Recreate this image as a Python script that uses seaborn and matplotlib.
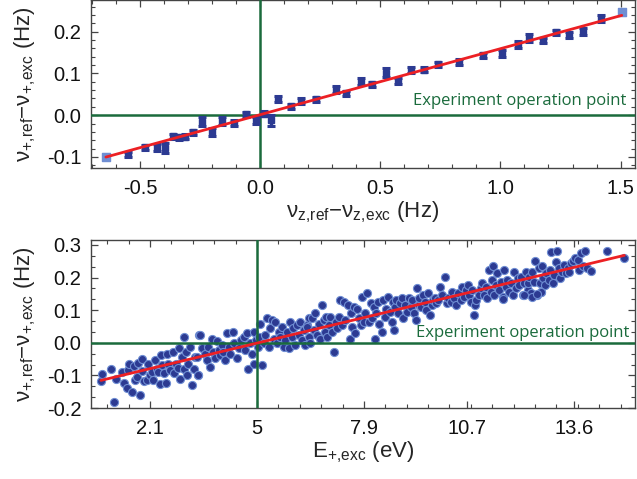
import numpy as np
import pandas as pd
import matplotlib
matplotlib.use("Agg")
import matplotlib.pyplot as plt
import seaborn as sns
from matplotlib.ticker import MultipleLocator, FixedLocator, AutoMinorLocator, FormatStrFormatter

# ---------------- data ----------------
# top panel: nu_z,ref - nu_z,exc (Hz) vs nu_+,ref - nu_+,exc (Hz)
x_top = [-0.642, -0.548, -0.481, -0.431, -0.396, -0.361, -0.337, -0.313, -0.278, -0.240,
         -0.202, -0.157, -0.109, -0.060, -0.016, 0.016, 0.047, 0.076, 0.127, 0.172,
         0.231, 0.314, 0.358, 0.418, 0.466, 0.525, 0.574, 0.626, 0.681, 0.741,
         0.826, 0.926, 1.007, 1.073, 1.120, 1.177, 1.232, 1.285, 1.343, 1.418, 1.505]
y_top = [-0.100, -0.094, -0.077, -0.078, -0.078, -0.050, -0.053, -0.052, -0.041, -0.016,
         -0.040, -0.014, -0.018, 0.002, -0.012, 0.004, -0.012, 0.038, 0.022, 0.034,
         0.038, 0.062, 0.052, 0.080, 0.074, 0.102, 0.082, 0.108, 0.109, 0.122,
         0.127, 0.144, 0.148, 0.170, 0.185, 0.179, 0.198, 0.193, 0.201, 0.232, 0.246]
err_top = [0.006, 0.007, 0.006, 0.008, 0.012, 0.006, 0.006, 0.006, 0.006, 0.011,
           0.009, 0.009, 0.007, 0.006, 0.008, 0.006, 0.013, 0.007, 0.006, 0.006,
           0.006, 0.008, 0.007, 0.008, 0.006, 0.011, 0.008, 0.008, 0.006, 0.006,
           0.007, 0.006, 0.008, 0.008, 0.010, 0.007, 0.006, 0.007, 0.008, 0.009, 0.007]

# bottom panel: E_+,exc (eV) vs nu_+,ref - nu_+,exc (Hz)
x_bot = [0.77, 0.79, 1.04, 1.13, 1.17, 1.33, 1.40, 1.47, 1.49, 1.54, 1.60, 1.67, 1.69, 1.74, 1.77,
         1.83, 1.87, 1.89, 1.95, 2.01, 2.05, 2.10, 2.15, 2.19, 2.24, 2.28, 2.33, 2.37, 2.40, 2.43,
         2.49, 2.53, 2.55, 2.60, 2.64, 2.71, 2.76, 2.80, 2.85, 2.89, 2.92, 2.96, 3.01, 3.03, 3.07,
         3.10, 3.14, 3.19, 3.23, 3.28, 3.32, 3.40, 3.43,
         3.37, 3.41, 3.46, 3.51, 3.58, 3.64, 3.68, 3.73, 3.78, 3.82, 3.87, 3.91, 3.96, 4.00, 4.05,
         4.09, 4.14, 4.18, 4.23, 4.27, 4.34, 4.39, 4.46, 4.50, 4.57, 4.64, 4.68, 4.73, 4.77, 4.82,
         4.86, 4.91, 4.93, 4.97, 5.03, 5.06, 5.09, 5.14, 5.18, 5.23, 5.27, 5.32, 5.36, 5.41, 5.45,
         5.50, 5.54, 5.59, 5.63, 5.68, 5.72, 5.77, 5.82, 5.86, 5.90, 5.95, 5.99, 6.04, 6.09, 6.13,
         6.18, 6.22, 6.27, 6.31, 6.36, 6.40,
         6.36, 6.40, 6.45, 6.49, 6.54, 6.58, 6.63, 6.67, 6.72, 6.77, 6.81, 6.84, 6.88, 6.90, 6.95,
         6.99, 7.04, 7.08, 7.13, 7.17, 7.22, 7.26, 7.31, 7.35, 7.40, 7.47, 7.51, 7.54, 7.58, 7.63,
         7.67, 7.72, 7.76, 7.81, 7.85, 7.90, 7.94, 7.99, 8.03, 8.08, 8.13, 8.17, 8.20, 8.23, 8.29,
         8.32, 8.38, 8.41, 8.47, 8.51, 8.56, 8.60, 8.65, 8.69, 8.71, 8.74, 8.78, 8.83, 8.87, 8.92,
         8.96, 9.01, 9.08, 9.12, 9.17, 9.21, 9.26, 9.30, 9.35, 9.39,
         9.39, 9.44, 9.50, 9.55, 9.59, 9.65, 9.68, 9.74, 9.77, 9.83, 9.86, 9.92, 9.95, 10.01, 10.10,
         10.14, 10.19, 10.25, 10.30, 10.34, 10.41, 10.46, 10.52, 10.57, 10.61, 10.66, 10.71, 10.75,
         10.80, 10.84, 10.89, 10.91, 10.95, 11.01, 11.07, 11.11, 11.16, 11.20, 11.25, 11.29, 11.34,
         11.37, 11.40, 11.43, 11.48, 11.52, 11.57, 11.61, 11.66, 11.70, 11.75, 11.79, 11.84, 11.88,
         11.93, 11.97, 12.02, 12.07, 12.11, 12.15, 12.20, 12.24, 12.29, 12.34, 12.38,
         12.34, 12.38, 12.43, 12.47, 12.52, 12.54, 12.58, 12.64, 12.67, 12.70, 12.73, 12.76, 12.82,
         12.85, 12.91, 12.94, 12.97, 13.02, 13.06, 13.11, 13.13, 13.18, 13.21, 13.27, 13.33, 13.38,
         13.42, 13.47, 13.51, 13.56, 13.63, 13.70, 13.74, 13.79, 13.83, 13.90, 13.94, 14.06, 14.49,
         14.96, 11.68, 12.25, 12.70, 12.45, 12.60]
y_bot = [-0.117, -0.096, -0.081, -0.183, -0.110, -0.089, -0.122, -0.140, -0.084, -0.066, -0.151,
         -0.071, -0.115, -0.104, -0.061, -0.161, -0.086, -0.051, -0.117, -0.113, -0.064, -0.099,
         -0.089, -0.113, -0.053, -0.079, -0.089, -0.125, -0.038, -0.069, -0.094, -0.123, -0.033,
         -0.064, -0.084, -0.028, -0.092, -0.064, -0.076, -0.017, -0.110, -0.043, 0.018, -0.079,
         -0.028, -0.099, -0.064, -0.012, -0.130, -0.079, -0.043, -0.099, 0.024,
         -0.043, -0.099, 0.024, -0.017, -0.033, -0.053, -0.012, -0.074, 0.010, -0.028, -0.048,
         0.006, -0.022, -0.038, -0.007, -0.028, -0.053, 0.029, -0.012, -0.033, 0.034, -0.002,
         -0.048, -0.017, 0.008, 0.018, -0.022, 0.029, -0.079, -0.002, -0.033, 0.034, -0.064,
         0.008, -0.012, 0.018, 0.059, -0.069, -0.002, 0.024, 0.075, -0.012, 0.044, 0.070, 0.013,
         0.065, -0.002, 0.034, 0.018, 0.049, -0.012, 0.008, 0.034, -0.017, 0.065, 0.018, 0.044,
         -0.007, 0.054, 0.024, 0.065, 0.008, 0.039, -0.007, 0.054, 0.075,
         0.049, 0.018, -0.002, 0.075, 0.039, 0.090, 0.024, 0.059, 0.013, 0.116, 0.070, 0.034,
         0.080, 0.018, 0.054, 0.080, 0.034, -0.028, 0.065, 0.044, 0.080, 0.131, 0.054, 0.126,
         0.070, 0.116, 0.013, 0.090, 0.049, 0.111, 0.029, 0.105, 0.075, 0.054, 0.141, 0.065,
         0.090, 0.152, 0.065, 0.121, 0.075, 0.111, 0.013, 0.090, 0.126, 0.059, 0.034, 0.131,
         0.080, 0.105, 0.141, 0.095, 0.065, 0.126, 0.039, 0.111, 0.131, 0.090, 0.121, 0.136,
         0.075, 0.116, 0.095, 0.136, 0.111, 0.131, 0.090, 0.070, 0.167, 0.116,
         0.136, 0.111, 0.147, 0.126, 0.101, 0.152, 0.085, 0.116, 0.131, 0.138, 0.121, 0.131,
         0.172, 0.147, 0.203, 0.121, 0.136, 0.126, 0.157, 0.136, 0.116, 0.152, 0.131, 0.172,
         0.141, 0.162, 0.177, 0.147, 0.126, 0.162, 0.085, 0.116, 0.131, 0.147, 0.167, 0.182,
         0.147, 0.172, 0.136, 0.223, 0.157, 0.193, 0.234, 0.147, 0.177, 0.213, 0.162, 0.187,
         0.141, 0.223, 0.172, 0.193, 0.157, 0.182, 0.147, 0.218, 0.167, 0.198, 0.177, 0.203,
         0.147, 0.182, 0.218, 0.162, 0.193,
         0.182, 0.203, 0.152, 0.218, 0.187, 0.252, 0.147, 0.228, 0.182, 0.157, 0.236, 0.198,
         0.177, 0.213, 0.193, 0.223, 0.277, 0.182, 0.208, 0.249, 0.280, 0.228, 0.198, 0.218,
         0.239, 0.213, 0.228, 0.218, 0.244, 0.252, 0.259, 0.254, 0.223, 0.274, 0.234, 0.280,
         0.228, 0.221, 0.280, 0.259, 0.134, 0.147, 0.157, 0.140, 0.150]

xticks_bot = [2.1, 5, 7.9, 10.7, 13.6]
xticklabels_bot = ["2.1", "5", "7.9", "10.7", "13.6"]

label_text = "Experiment operation point"

# ---------------- style ----------------
sns.set_theme(style="ticks")
plt.rcParams["font.family"] = ["Liberation Sans", "DejaVu Sans"]
plt.rcParams["mathtext.fontset"] = "custom"
plt.rcParams["mathtext.rm"] = "Liberation Sans"
plt.rcParams["mathtext.it"] = "Liberation Sans"
plt.rcParams["axes.unicode_minus"] = False

BLUE = "#2c3a92"
LIGHT = "#6f8ed3"
RED = "#ec2024"
GREEN = "#1a6b3c"
SPINE = "#444444"

fig = plt.figure(figsize=(6.37, 4.79), dpi=100)
W, H = 637, 479
ax1 = fig.add_axes([91 / W, 1 - 168 / H, 544 / W, 168 / H])
ax2 = fig.add_axes([91 / W, 1 - 408 / H, 544 / W, 168 / H])


def style_axes(ax):
    for s in ax.spines.values():
        s.set_color(SPINE)
        s.set_linewidth(1.0)
    ax.tick_params(which="both", direction="in", top=True, right=True, color=SPINE,
                   labelsize=14.5, labelcolor="#111111")
    ax.tick_params(which="major", length=5, width=0.9)
    ax.tick_params(which="minor", length=3, width=0.8)
    ax.tick_params(axis="x", pad=8)
    ax.tick_params(axis="y", pad=7)


ylab = r"ν$_{+,\!\mathrm{ref}}$−ν$_{+,\!\mathrm{exc}}$ (Hz)"

# ---- top panel ----
ax1.axhline(0, color=GREEN, lw=1.8, zorder=3)
ax1.axvline(0, color=GREEN, lw=1.8, zorder=3)
ax1.errorbar(x_top, y_top, yerr=err_top, fmt="s", ms=4, color=BLUE, ecolor=BLUE,
             elinewidth=2.4, capsize=3.2, capthick=2.2, zorder=4)
ax1.scatter([x_top[0], x_top[-1]], [y_top[0], y_top[-1]], marker="s", s=30,
            color=LIGHT, zorder=5)
sns.regplot(x=np.array(x_top), y=np.array(y_top), ax=ax1, scatter=False, ci=None,
            line_kws=dict(color=RED, lw=2.0, zorder=6))
ax1.set_xlim(-0.704, 1.56)
ax1.set_ylim(-0.1264, 0.2758)
ax1.xaxis.set_major_locator(MultipleLocator(0.5))
ax1.xaxis.set_minor_locator(MultipleLocator(0.1))
ax1.yaxis.set_major_locator(MultipleLocator(0.1))
ax1.yaxis.set_minor_locator(MultipleLocator(0.02))
ax1.xaxis.set_major_formatter(FormatStrFormatter("%.1f"))
ax1.yaxis.set_major_formatter(FormatStrFormatter("%.1f"))
style_axes(ax1)
ax1.set_xlabel(r"ν$_{z,\!\mathrm{ref}}$−ν$_{z,\!\mathrm{exc}}$ (Hz)", fontsize=16, labelpad=1)
ax1.set_ylabel(ylab, fontsize=16, labelpad=6)
ax1.text(1.525, 0.024, label_text, color=GREEN, fontsize=12, ha="right", va="baseline",
         family=["Open Sans", "DejaVu Sans"], zorder=7)

# ---- bottom panel ----
df_bot = pd.DataFrame({"E": x_bot, "dnu": y_bot})
ax2.axhline(0, color=GREEN, lw=1.8, zorder=3)
ax2.axvline(5, color=GREEN, lw=1.8, zorder=3)
sns.scatterplot(data=df_bot, x="E", y="dnu", ax=ax2, s=34, color=BLUE,
                edgecolor=LIGHT, linewidth=0.8, zorder=2, legend=False)
sns.regplot(data=df_bot, x="E", y="dnu", ax=ax2, scatter=False, ci=None,
            line_kws=dict(color=RED, lw=2.0, zorder=6))
ax2.set_xlim(0.5, 15.25)
ax2.set_ylim(-0.2, 0.315)
ax2.xaxis.set_major_locator(FixedLocator(xticks_bot))
ax2.set_xticklabels(xticklabels_bot)
ax2.xaxis.set_minor_locator(AutoMinorLocator(5))
ax2.yaxis.set_major_locator(MultipleLocator(0.1))
ax2.yaxis.set_minor_locator(MultipleLocator(0.1 / 3))
ax2.yaxis.set_major_formatter(FormatStrFormatter("%.1f"))
style_axes(ax2)
ax2.set_xlabel(r"E$_{+,\!\mathrm{exc}}$ (eV)", fontsize=16, labelpad=1)
ax2.set_ylabel(ylab, fontsize=16, labelpad=6)
ax2.text(15.1, 0.018, label_text, color=GREEN, fontsize=12, ha="right", va="baseline",
         family=["Open Sans", "DejaVu Sans"], zorder=7)

fig.savefig("out.png", dpi=100)
